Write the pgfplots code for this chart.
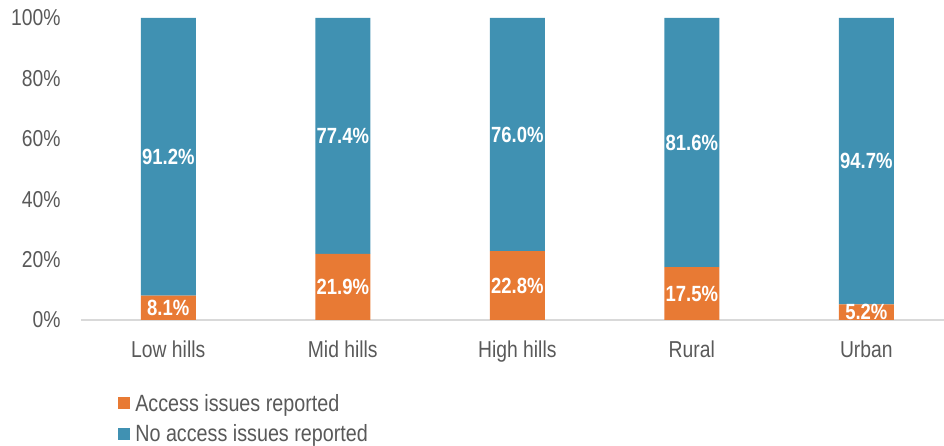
\documentclass[border=0pt]{standalone}
\usepackage{pgfplots}
\pgfplotsset{compat=1.18}
\usepackage{pgfplotstable}
\usepackage{fontspec}
\setmainfont[FakeStretch=0.84]{Liberation Sans}
\definecolor{cOr}{RGB}{232,122,52}
\definecolor{cBl}{RGB}{64,145,178}
\definecolor{cTx}{RGB}{89,89,89}
\definecolor{cAx}{RGB}{217,217,217}
% bar segments (blue = remainder up to 100%)
\pgfplotstableread{
x o b
0 8.1 91.9
1 21.9 78.1
2 22.8 77.2
3 17.5 82.5
4 5.2 94.8
}\data
% data labels: centre of each segment and printed value
\pgfplotstableread{
x oc ol bc bl
0 4.05 8.1 54.05 91.2
1 10.95 21.9 60.95 77.4
2 11.4 22.8 61.4 76.0
3 8.75 17.5 58.75 81.6
4 2.6 5.2 52.6 94.7
}\labels
\begin{document}
\begin{tikzpicture}
\useasboundingbox (0,0) rectangle (944pt,446pt);
\begin{axis}[
  at={(81pt,126pt)}, anchor=south west,
  scale only axis, width=863pt, height=302pt,
  ybar stacked, bar width=55pt,
  xmin=-0.5, xmax=4.445, ymin=0, ymax=100,
  axis x line*=bottom, axis y line*=left,
  x axis line style={cAx, line width=1.2pt, -},
  y axis line style={draw=none},
  xtick={0,...,4},
  xticklabels={Low hills, Mid hills, High hills, Rural, Urban},
  ytick={0,20,...,100},
  yticklabel={\pgfmathprintnumber{\tick}\%},
  /pgf/number format/assume math mode=true,
  tick style={draw=none},
  major tick length=0pt,
  tick label style={font=\fontsize{23}{27}\selectfont, text=cTx},
  yticklabel style={anchor=east, xshift=-17pt},
  xticklabel style={anchor=north, yshift=-17pt},
  legend image code/.code={\fill[#1] (0pt,-6pt) rectangle (12pt,6pt);},
  legend style={at={(0.043,-0.238)}, anchor=north west, draw=none, fill=none,
    font=\fontsize{23.5}{27}\selectfont, text=cTx, inner sep=0pt,
    row sep=8pt, /tikz/every odd column/.append style={column sep=3pt}},
  legend cell align=left,
]
\addplot[fill=cOr, draw=none] table[x=x, y=o] {\data};
\addplot[fill=cBl, draw=none] table[x=x, y=b] {\data};
\legend{Access issues reported, No access issues reported}
\end{axis}
\begin{axis}[
  at={(81pt,126pt)}, anchor=south west,
  scale only axis, width=863pt, height=302pt,
  xmin=-0.5, xmax=4.445, ymin=0, ymax=100,
  hide axis,
  nodes near coords={\pgfplotspointmeta\%},
  point meta=explicit symbolic,
  every node near coord/.append style={font=\bfseries\fontsize{22}{26}\selectfont, text=white, anchor=center, inner sep=0pt},
]
\addplot[draw=none, mark=none] table[x=x, y=oc, meta=ol] {\labels};
\addplot[draw=none, mark=none] table[x=x, y=bc, meta=bl] {\labels};
\end{axis}
\end{tikzpicture}
\end{document}
